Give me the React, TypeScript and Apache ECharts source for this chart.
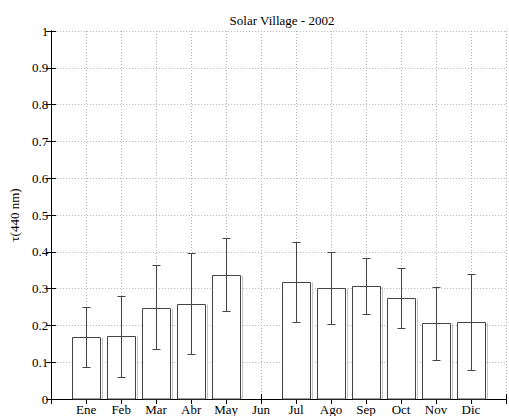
import React, { useEffect, useRef } from "react";
import * as echarts from "echarts";

const months = ["Ene", "Feb", "Mar", "Abr", "May", "Jun", "Jul", "Ago", "Sep", "Oct", "Nov", "Dic"];
const tau = [0.168, 0.171, 0.248, 0.258, 0.337, null, 0.318, 0.302, 0.307, 0.275, 0.206, 0.209];
const errLow = [0.087, 0.06, 0.135, 0.121, 0.238, null, 0.209, 0.204, 0.231, 0.193, 0.107, 0.079];
const errHigh = [0.25, 0.281, 0.364, 0.398, 0.438, null, 0.427, 0.399, 0.383, 0.356, 0.305, 0.34];
const chartTitle = "Solar Village - 2002";
const yName = "τ(440 nm)";

const FONT = "Liberation Serif";

export default function App() {
  const ref = useRef<HTMLDivElement>(null);
  useEffect(() => {
    if (!ref.current) return;
    const chart = echarts.init(ref.current, null, { renderer: "svg" });
    const data: any[] = [];
    months.forEach((m, i) => {
      if (tau[i] != null) data.push([i + 1, tau[i], errLow[i], errHigh[i]]);
    });
    const snap = (v: number) => Math.round(v) + 0.5;
    const barRender = (params: any, api: any) => {
      const x = api.value(0);
      const v = api.value(1);
      const p0 = api.coord([x, 0]);
      const p1 = api.coord([x, v]);
      const w = api.size([0.8, 0])[0];
      const xl = snap(p0[0] - w / 2);
      const xr = snap(p0[0] + w / 2);
      const yt = snap(p1[1]);
      const yb = p0[1];
      return {
        type: "group",
        children: [
          {
            type: "rect",
            shape: { x: xl, y: yt, width: xr - xl, height: yb - yt },
            style: { fill: "#fff", stroke: "#444", lineWidth: 1 },
          },
          {
            type: "line",
            shape: { x1: xr + 2, y1: yt, x2: xr + 2, y2: yb },
            style: { stroke: "#c4c4c4", lineWidth: 1 },
          },
        ],
      };
    };
    const errRender = (params: any, api: any) => {
      const x = api.value(0);
      const lo = api.coord([x, api.value(2)]);
      const hi = api.coord([x, api.value(3)]);
      const cx = snap(lo[0]);
      const c = 4;
      const st = { stroke: "#444", lineWidth: 1 };
      return {
        type: "group",
        children: [
          { type: "line", shape: { x1: cx, y1: snap(hi[1]), x2: cx, y2: snap(lo[1]) }, style: st },
          { type: "line", shape: { x1: cx - c, y1: snap(hi[1]), x2: cx + c, y2: snap(hi[1]) }, style: st },
          { type: "line", shape: { x1: cx - c, y1: snap(lo[1]), x2: cx + c, y2: snap(lo[1]) }, style: st },
        ],
      };
    };
    const gridLine = { show: true, lineStyle: { type: [1, 2], color: "#b4b4b4", width: 1 } };
    const axLine = { show: true, lineStyle: { color: "#000", width: 1 } };
    const tick = { show: true, inside: true, length: 5, lineStyle: { color: "#000" } };
    chart.setOption({
      animation: false,
      backgroundColor: "#fff",
      grid: { left: 43, right: -2, top: 31, bottom: 16, containLabel: false },
      title: {
        text: chartTitle,
        left: 277,
        top: 9,
        textAlign: "center",
        textStyle: { fontFamily: FONT, fontSize: 13, fontWeight: "normal", color: "#000" },
      },
      xAxis: [
        {
          type: "value",
          min: 0,
          max: 13,
          interval: 1,
          position: "bottom",
          axisLine: axLine,
          axisTick: tick,
          splitLine: gridLine,
          axisLabel: {
            formatter: (v: number) => months[v - 1] ?? "",
            fontFamily: FONT,
            fontSize: 13,
            color: "#000",
            margin: 4,
          },
        },
        {
          type: "value",
          min: 0,
          max: 13,
          interval: 1,
          position: "top",
          axisLine: axLine,
          axisTick: tick,
          splitLine: { show: false },
          axisLabel: { show: false },
        },
      ],
      yAxis: [
        {
          type: "value",
          min: 0,
          max: 1,
          interval: 0.1,
          position: "left",
          axisLine: axLine,
          axisTick: tick,
          splitLine: gridLine,
          axisLabel: { fontFamily: FONT, fontSize: 13, color: "#000", margin: 3 },
          name: yName,
          nameLocation: "middle",
          nameGap: 22,
          nameTextStyle: { fontFamily: FONT, fontSize: 13, color: "#000" },
        },
        {
          type: "value",
          min: 0,
          max: 1,
          interval: 0.1,
          position: "right",
          axisLine: axLine,
          axisTick: tick,
          splitLine: { show: false },
          axisLabel: { show: false },
        },
      ],
      series: [
        { type: "custom", renderItem: barRender, data, xAxisIndex: 0, yAxisIndex: 0, z: 3, clip: false },
        { type: "custom", renderItem: errRender, data, xAxisIndex: 0, yAxisIndex: 0, z: 4, clip: false },
      ],
    });
    return () => chart.dispose();
  }, []);
  return (
    <div
      ref={ref}
      style={{ position: "fixed", left: 0, top: 0, width: 509, height: 416 }}
    />
  );
}
